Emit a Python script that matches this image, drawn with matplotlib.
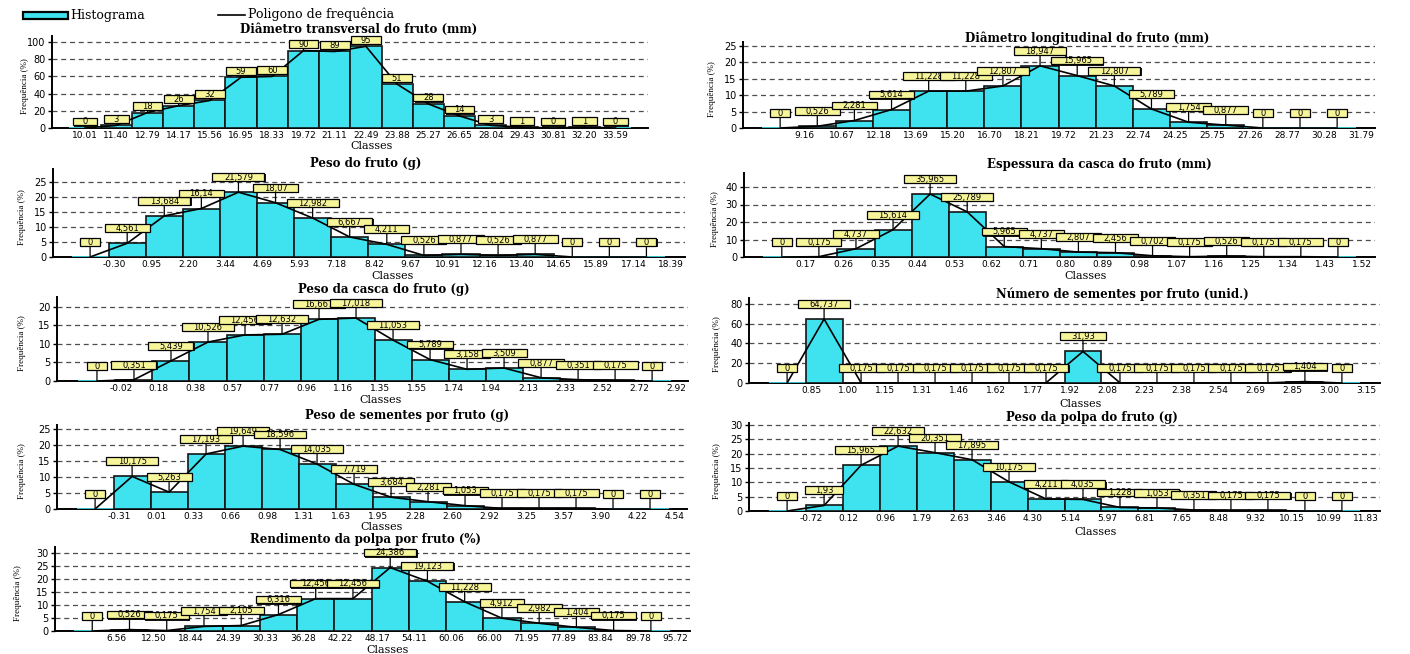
import matplotlib
matplotlib.use("Agg")
import matplotlib.pyplot as plt
import matplotlib.patheffects as pe
from matplotlib.path import Path
from matplotlib.transforms import offset_copy
from matplotlib.patches import Rectangle
from matplotlib.lines import Line2D

# --- data (class limits and frequency per class) ---
dt_title = "Diâmetro transversal do fruto (mm)"
dt_classes = [10.01, 11.40, 12.79, 14.17, 15.56, 16.95, 18.33, 19.72, 21.11,
              22.49, 23.88, 25.27, 26.65, 28.04, 29.43, 30.81, 32.20, 33.59]
dt_freq = [0, 3, 18, 26, 32, 59, 60, 90, 89, 95, 51, 28, 14, 3, 1, 0, 1, 0]

pf_title = "Peso do fruto (g)"
pf_classes = [-0.30, 0.95, 2.20, 3.44, 4.69, 5.93, 7.18, 8.42, 9.67, 10.91,
              12.16, 13.40, 14.65, 15.89, 17.14, 18.39]
pf_freq = [0, 4.561, 13.684, 16.14, 21.579, 18.07, 12.982, 6.667, 4.211,
           0.526, 0.877, 0.526, 0.877, 0, 0, 0]

pc_title = "Peso da casca do fruto (g)"
pc_classes = [-0.02, 0.18, 0.38, 0.57, 0.77, 0.96, 1.16, 1.35, 1.55, 1.74,
              1.94, 2.13, 2.33, 2.52, 2.72, 2.92]
pc_freq = [0, 0.351, 5.439, 10.526, 12.456, 12.632, 16.667, 17.018, 11.053,
           5.789, 3.158, 3.509, 0.877, 0.351, 0.175, 0]

ps_title = "Peso de sementes por fruto (g)"
ps_classes = [-0.31, 0.01, 0.33, 0.66, 0.98, 1.31, 1.63, 1.95, 2.28, 2.60,
              2.92, 3.25, 3.57, 3.90, 4.22, 4.54]
ps_freq = [0, 10.175, 5.263, 17.193, 19.649, 18.596, 14.035, 7.719, 3.684,
           2.281, 1.053, 0.175, 0.175, 0.175, 0, 0]

rp_title = "Rendimento da polpa por fruto (%)"
rp_classes = [6.56, 12.50, 18.44, 24.39, 30.33, 36.28, 42.22, 48.17, 54.11,
              60.06, 66.00, 71.95, 77.89, 83.84, 89.78, 95.72]
rp_freq = [0, 0.526, 0.175, 1.754, 2.105, 6.316, 12.456, 12.456, 24.386,
           19.123, 11.228, 4.912, 2.982, 1.404, 0.175, 0]

dl_title = "Diâmetro longitudinal do fruto (mm)"
dl_classes = [9.16, 10.67, 12.18, 13.69, 15.20, 16.70, 18.21, 19.72, 21.23,
              22.74, 24.25, 25.75, 27.26, 28.77, 30.28, 31.79]
dl_freq = [0, 0.526, 2.281, 5.614, 11.228, 11.228, 12.807, 18.947, 15.965,
           12.807, 5.789, 1.754, 0.877, 0, 0, 0]

ec_title = "Espessura da casca do fruto (mm)"
ec_classes = [0.17, 0.26, 0.35, 0.44, 0.53, 0.62, 0.71, 0.80, 0.89, 0.98,
              1.07, 1.16, 1.25, 1.34, 1.43, 1.52]
ec_freq = [0, 0.175, 4.737, 15.614, 35.965, 25.789, 5.965, 4.737, 2.807,
           2.456, 0.702, 0.175, 0.526, 0.175, 0.175, 0]

ns_title = "Número de sementes por fruto (unid.)"
ns_classes = [0.85, 1.00, 1.15, 1.31, 1.46, 1.62, 1.77, 1.92, 2.08, 2.23,
              2.38, 2.54, 2.69, 2.85, 3.00, 3.15]
ns_freq = [0, 64.737, 0.175, 0.175, 0.175, 0.175, 0.175, 0.175, 31.93,
           0.175, 0.175, 0.175, 0.175, 0.175, 1.404, 0]

pp_title = "Peso da polpa do fruto (g)"
pp_classes = [-0.72, 0.12, 0.96, 1.79, 2.63, 3.46, 4.30, 5.14, 5.97, 6.81,
              7.65, 8.48, 9.32, 10.15, 10.99, 11.83]
pp_freq = [0, 1.93, 15.965, 22.632, 20.351, 17.895, 10.175, 4.211, 4.035,
           1.228, 1.053, 0.351, 0.175, 0.175, 0, 0]

# --- look ---
W, H = 1410, 654
CYAN = "#3fe3ef"
YELLOW = "#f7f59a"


def fx(x):
    return x / W


def fy(y):
    return 1 - y / H


def fmt(v):
    s = f"{v:.3f}".rstrip("0").rstrip(".")
    return s.replace(".", ",")


def make_box(scale, extra):
    # label box: wider than the text, a bit tighter than the text height
    def box(x0, y0, width, height, ms):
        cx = x0 + width / 2
        w = width * scale + extra * ms
        a, b = cx - w / 2, cx + w / 2
        c, d = y0 + 0.12 * ms, y0 + height - 0.02 * ms
        return Path([(a, c), (b, c), (b, d), (a, d), (a, c)], closed=True)
    return box


fig = plt.figure(figsize=(W / 100, H / 100), dpi=100)

# panel layout: pixel box (x0, x1, ytop, ybottom), xlim, ymax, yticks, tick offset,
# label gap (pt), box scale, box extra, title centre, "Classes" centre, ylabel x
panels = [
    (dt_title, dt_classes, dt_freq, (52, 648, 36, 128), (-1.06, 18.04), 107, range(0, 101, 20), 0.0,
     1.8, 1.0, 2.3, (359, 29), (372, 146), 25),
    (pf_title, pf_classes, pf_freq, (53, 685, 169, 257), (-1.0, 16.04), 29.3, range(0, 26, 5), 0.65,
     8.0, 1.35, 1.55, (366, 164), (393, 276), 22),
    (pc_title, pc_classes, pc_freq, (57, 688, 297, 381), (-1.08, 15.97), 22.7, range(0, 21, 5), 0.65,
     8.0, 1.35, 1.55, (384, 289), (381, 400), 22),
    (ps_title, ps_classes, ps_freq, (57, 687, 425, 509), (-1.03, 16.0), 26.25, range(0, 26, 5), 0.65,
     8.0, 1.35, 1.55, (407, 416), (382, 527), 22),
    (rp_title, rp_classes, rp_freq, (55, 690, 547, 631), (-1.0, 16.05), 32.3, range(0, 31, 5), 0.65,
     8.0, 1.35, 1.55, (366, 540), (388, 650), 18),
    (dl_title, dl_classes, dl_freq, (743, 1375, 42, 128), (-1.0, 16.02), 26.2, range(0, 26, 5), 0.65,
     8.0, 1.35, 1.55, (1087, 38), None, 712),
    (ec_title, ec_classes, ec_freq, (744, 1375, 173, 257), (-1.02, 16.0), 48, range(0, 41, 10), 0.65,
     8.0, 1.35, 1.55, (1099, 165), (1086, 276), 715),
    (ns_title, ns_classes, ns_freq, (749, 1380, 298, 383), (-1.03, 16.03), 86, range(0, 81, 20), 0.65,
     8.0, 1.35, 1.55, (1122, 294), (1081, 404), 717),
    (pp_title, pp_classes, pp_freq, (749, 1380, 423, 511), (-1.03, 16.03), 30.7, range(0, 31, 5), 0.65,
     8.0, 1.35, 1.55, (1092, 418), (1096, 532), 717),
]

for (title, classes, freq, rect, xlim, ymax, yticks, toff,
     gap, bscale, bextra, tpos, cpos, ylx) in panels:
    x0, x1, yt, yb = rect
    ax = fig.add_axes([fx(x0), fy(yb), (x1 - x0) / W, (yb - yt) / H])
    n = len(freq)
    idx = list(range(n))

    edges = ["#151515" if v > 0 else CYAN for v in freq]
    ax.bar(idx, freq, width=1.0, color=CYAN, edgecolor=edges, linewidth=1.2, zorder=3)
    ax.plot(idx, freq, color="k", lw=1.2, zorder=4)

    for yv in yticks:
        if yv > 0:
            ax.axhline(yv, color="0.3", lw=0.9, ls=(0, (4, 3)), zorder=1)

    # labelled value boxes with stems
    stem_tr = offset_copy(ax.transData, fig=fig, y=gap, units="points")
    box_tr = offset_copy(ax.transData, fig=fig, y=gap - 0.7, units="points")
    for i, v in enumerate(freq):
        ax.annotate("", xy=(i, 0), xytext=(i, v), textcoords=stem_tr,
                    arrowprops=dict(arrowstyle="-", color="k", lw=0.9,
                                    shrinkA=0, shrinkB=0),
                    zorder=2, annotation_clip=False)
        t = ax.text(i, v, fmt(v), transform=box_tr, ha="center", va="bottom",
                    fontsize=6, zorder=6, clip_on=False,
                    bbox=dict(boxstyle=make_box(bscale, bextra), fc=YELLOW,
                              ec="k", lw=0.9))
        t.get_bbox_patch().set_path_effects(
            [pe.withSimplePatchShadow(offset=(0.8, -0.8), shadow_rgbFace="k", alpha=0.9)])

    ax.set_xlim(*xlim)
    ax.set_ylim(0, ymax)
    ax.set_yticks(list(yticks))
    ax.set_xticks([j + toff for j in range(len(classes))])
    ax.set_xticklabels([f"{c:.2f}" for c in classes])
    ax.tick_params(axis="y", length=3, width=1, labelsize=7, pad=1.5)
    ax.tick_params(axis="x", length=0, labelsize=6.5, pad=2.5)
    for s in ["top", "right"]:
        ax.spines[s].set_visible(False)
    for s in ["left", "bottom"]:
        ax.spines[s].set_linewidth(1.4)
    ax.set_facecolor("none")

    fig.text(fx(tpos[0]), fy(tpos[1]), title, ha="center", va="center",
             fontsize=8.5, fontweight="bold", family="DejaVu Serif")
    if cpos is not None:
        fig.text(fx(cpos[0]), fy(cpos[1]), "Classes", ha="center", va="center",
                 fontsize=8, family="DejaVu Serif")
    fig.text(fx(ylx), fy((yt + yb) / 2 + 4), "Frequência (%)", rotation=90,
             ha="center", va="center", fontsize=6.5, family="Liberation Serif")

# legend at the top
fig.add_artist(Rectangle((fx(23), fy(19)), 45 / W, 7 / H, transform=fig.transFigure,
                         fc=CYAN, ec="k", lw=1.6))
fig.text(fx(70), fy(15.5), "Histograma", ha="left", va="center",
         fontsize=9, family="DejaVu Serif")
fig.add_artist(Line2D([fx(218), fx(245)], [fy(14.5), fy(14.5)],
                      transform=fig.transFigure, color="k", lw=1.2))
fig.text(fx(248), fy(14.5), "Poligono de frequência", ha="left", va="center",
         fontsize=9, family="DejaVu Serif")

fig.savefig("out.png", dpi=100, facecolor="white")
